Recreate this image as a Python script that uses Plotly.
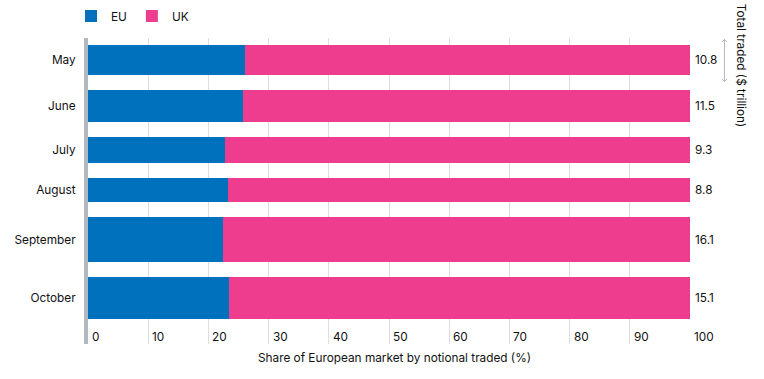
import plotly.graph_objects as go

months = ["May", "June", "July", "August", "September", "October"]
eu_share = [26.0, 25.7, 22.8, 23.3, 22.5, 23.4]
uk_share = [round(100 - v, 1) for v in eu_share]
totals = [10.8, 11.5, 9.3, 8.8, 16.1, 15.1]
x_ticks = list(range(0, 101, 10))
x_title = "Share of European market by notional traded (%)"
right_title = "Total traded ($ trillion)"

EU_COLOR = "#0071bc"
UK_COLOR = "#ee3d8f"
TEXT = "#111111"
FONT = "Inter, Roboto, Arial, sans-serif"
FS = 11.8

W, H = 764, 379
PL, PR, PT, PB = 88, 690, 38, 344  # plot area in window pixels
ML, MR, MT, MB = PL, W - PR, PT, H - PB
PW, PH = PR - PL, PB - PT


def px_x(px):
    return (px - PL) / PW


def px_y(py):
    return 1 - (py - PT) / PH


GAP = 5.4
centers = []
pos = 0.0
for t in totals:
    centers.append(pos + t / 2)
    pos += t + GAP
end = pos - GAP

fig = go.Figure()
fig.add_trace(go.Bar(y=centers, x=eu_share, width=totals, orientation="h", name="EU",
                     marker=dict(color=EU_COLOR, line=dict(width=0)), hoverinfo="skip"))
fig.add_trace(go.Bar(y=centers, x=uk_share, width=totals, orientation="h", name="UK",
                     marker=dict(color=UK_COLOR, line=dict(width=0)), hoverinfo="skip"))

tfont = dict(size=FS, color=TEXT, family=FONT)

for c, t in zip(centers, totals):
    fig.add_annotation(x=100, y=c, xref="x", yref="y", text=f"{t}", showarrow=False,
                       xanchor="left", xshift=3, font=tfont)

# x tick labels sit to the right of each gridline, just above the plot bottom
for v in x_ticks:
    fig.add_annotation(x=v, y=px_y(336.5), xref="x", yref="paper", text=str(v),
                       showarrow=False, xanchor="left", yanchor="middle", xshift=2, font=tfont)

fig.add_annotation(x=px_x(394), y=px_y(358), xref="paper", yref="paper", text=x_title,
                   showarrow=False, xanchor="center", yanchor="middle", font=tfont)

fig.add_annotation(xref="paper", yref="paper", x=px_x(741.7), y=px_y(1.5),
                   text=right_title, textangle=90, showarrow=False,
                   xanchor="center", yanchor="top", font=tfont)

# double arrow next to the right title
ARROW_COLOR = "#a3a8b1"
ax_ = px_x(724.5)
ay_top = px_y(39.5)
ay_bot = px_y(81.5)
fig.add_shape(type="line", xref="paper", yref="paper", x0=ax_, x1=ax_, y0=ay_top, y1=ay_bot,
              line=dict(color=ARROW_COLOR, width=0.8))
fig.add_shape(type="path", xref="paper", yref="paper", xsizemode="pixel", ysizemode="pixel",
              xanchor=ax_, yanchor=ay_top, path="M-2.5,-2.5 L0,0 L2.5,-2.5",
              line=dict(color=ARROW_COLOR, width=0.8))
fig.add_shape(type="path", xref="paper", yref="paper", xsizemode="pixel", ysizemode="pixel",
              xanchor=ax_, yanchor=ay_bot, path="M-2.5,2.5 L0,0 L2.5,2.5",
              line=dict(color=ARROW_COLOR, width=0.8))

fig.update_layout(
    width=W, height=H,
    margin=dict(l=ML, r=MR, t=MT, b=MB, autoexpand=False),
    barmode="stack", bargap=0,
    plot_bgcolor="white", paper_bgcolor="white",
    font=dict(family=FONT, size=FS, color=TEXT),
    showlegend=True,
    legend=dict(orientation="h", xref="paper", yref="paper", x=px_x(71), xanchor="left",
                y=px_y(16), yanchor="middle", font=tfont, traceorder="normal",
                bgcolor="rgba(0,0,0,0)"),
    xaxis=dict(range=[0, 100], tickvals=x_ticks, showgrid=True, gridcolor="#dcdee3", gridwidth=1,
               zeroline=False, showticklabels=False, ticks="", automargin=False),
    yaxis=dict(range=[end + 8.9, -2.5], tickvals=centers, ticktext=months, showgrid=False,
               zeroline=False, showline=True, linecolor="#b3b7bf", linewidth=4, ticks="",
               automargin=False, ticklabelstandoff=6, tickfont=tfont),
)

fig.write_html("out.html", config={"displayModeBar": False},
               post_script="document.body.style.margin='0';")
